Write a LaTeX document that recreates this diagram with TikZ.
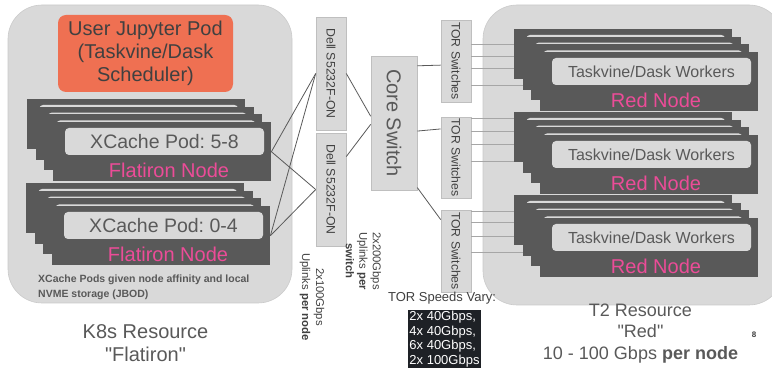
\documentclass[tikz,border=0pt]{standalone}
\usepackage{fontspec}
\setmainfont{Liberation Sans}
\newfontfamily\quotefont{Liberation Sans}[Ligatures=TeXOff]
\usepackage{graphicx}
\usetikzlibrary{calc}
\frenchspacing

\definecolor{panel}{HTML}{D9D9D9}
\definecolor{panelline}{HTML}{CACACA}
\definecolor{cardgray}{HTML}{595959}
\definecolor{textgray}{HTML}{595959}
\definecolor{darktext}{HTML}{404040}
\definecolor{nodepink}{RGB}{236,76,152}
\definecolor{podorange}{RGB}{239,112,82}
\definecolor{swline}{HTML}{BFBFBF}
\definecolor{torline}{HTML}{A6A6A6}
\definecolor{speedbg}{HTML}{1E2126}

\newcommand{\fsz}[2]{\fontsize{#1}{#2}\selectfont}
\newcommand{\dq}{{\quotefont\char34}}

% stack of node cards: name, x, y (front card top left), pod style, pod text, node label
\newcommand{\nodestack}[6]{%
  \foreach \k in {3,2,1} {
    \fill[cardgray] ($(#2,#3)+(-8.6*\k,-7.7*\k)$) rectangle ++(218,59-2.8*\k);
    \fill[panel, rounded corners=4pt] ($(#2,#3)+(-8.6*\k+12,-7.7*\k+6)$) rectangle ++(199,27);
  }
  \coordinate (#1back) at ($(#2,#3)+(-25.8,-23.1)$);
  \node[card] (#1) at (#2,#3) {};
  \node[podbox, #4] (#1pod) at ($(#1.north west)+(111.5,19.5)$) {#5};
  \node[pinklabel] (#1label) at ($(#1.north west)+(116,48)$) {#6};
}

\begin{document}
\begin{tikzpicture}[x=1pt, y=-1pt,
    every node/.style={inner sep=0pt},
    bigpanel/.style={fill=panel, draw=panelline, line width=0.6pt, rounded corners=34pt},
    card/.style={fill=cardgray, anchor=north west, minimum width=218pt, minimum height=59pt},
    podbox/.style={fill=panel, rounded corners=4pt, minimum width=199pt, minimum height=27pt, text=textgray},
    xcache/.style={font=\fsz{19.5}{22}},
    worker/.style={font=\fsz{16}{19}},
    pinklabel/.style={text=nodepink, font=\fsz{20}{23}},
    swbox/.style={fill=panel, draw=swline, line width=0.6pt, text=darktext},
    wire/.style={draw=cardgray, line width=0.8pt},
    torwire/.style={draw=torline, line width=0.6pt}]
  \useasboundingbox (0,0) rectangle (772,371);
  \clip (0,0) rectangle (772,371);

  \node[bigpanel, minimum width=284pt, minimum height=298pt] (k8s) at (150,154) {};
  \node[bigpanel, minimum width=300pt, minimum height=300pt] (t2) at (633,155) {};

  \node[fill=podorange, rounded corners=8pt, minimum width=175pt, minimum height=77pt,
        align=center, text=darktext, font=\fsz{20}{23}] (jupyter) at (145.5,53.5)
        {User Jupyter Pod\\(Taskvine/Dask\\Scheduler)};

  \nodestack{xc58}{53}{122}{xcache}{XCache Pod: 5-8}{Flatiron Node}
  \nodestack{xc04}{52}{206}{xcache}{XCache Pod: 0-4}{Flatiron Node}

  \node[anchor=north west, align=left, text=textgray, font=\bfseries\fsz{10.5}{15}] (affinity)
        at (38,275) {XCache Pods given node affinity and local\\NVME storage (JBOD)};

  \node[swbox, minimum width=30pt, minimum height=113pt] (dell1) at (331,73.5)
        {\rotatebox{-90}{\fsz{12.3}{14}Dell S5232F-ON}};
  \node[swbox, minimum width=30pt, minimum height=113pt] (dell2) at (331,189.5)
        {\rotatebox{-90}{\fsz{12.3}{14}Dell S5232F-ON}};
  \node[swbox, text=textgray, minimum width=46pt, minimum height=134pt] (core) at (394,123)
        {\rotatebox{-90}{\fsz{20}{24}Core Switch}};
  \node[swbox, minimum width=30pt, minimum height=82pt] (tor1) at (456,61)
        {\rotatebox{-90}{\fsz{12.2}{14}TOR Switches}};
  \node[swbox, minimum width=30pt, minimum height=81pt] (tor2) at (456,157.5)
        {\rotatebox{-90}{\fsz{12.2}{14}TOR Switches}};
  \node[swbox, minimum width=30pt, minimum height=82pt] (tor3) at (456,251)
        {\rotatebox{-90}{\fsz{12.2}{14}TOR Switches}};

  \foreach \o in {25,37,49,66}
    \draw[torwire] ($(tor1.north east)+(0,\o)$) -- +(60,0);
  \foreach \o in {2,15,28,45}
    \draw[torwire] ($(tor2.north east)+(0,\o)$) -- +(60,0);
  \foreach \o in {2,13,27,43}
    \draw[torwire] ($(tor3.north east)+(0,\o)$) -- +(60,0);

  \nodestack{red1}{540}{52}{worker}{Taskvine/Dask Workers}{Red Node}
  \nodestack{red2}{540}{135}{worker}{Taskvine/Dask Workers}{Red Node}
  \nodestack{red3}{540}{218}{worker}{Taskvine/Dask Workers}{Red Node}

  \begin{scope}[wire]
    \draw (xc58.east) to (dell1.west);
    \draw (xc58.east) to (dell2.west);
    \draw (xc04.east) to (dell1.west);
    \draw (xc04.east) to (dell2.west);
    \draw (dell1.east) to ($(core.north west)!0.45!(core.south west)$);
    \draw ($(dell2.north east)!0.21!(dell2.south east)$) to ($(core.north west)!0.51!(core.south west)$);
    \draw ($(core.north east)!0.075!(core.south east)$) to ($(tor1.north west)!0.55!(tor1.south west)$);
    \draw ($(core.north east)!0.56!(core.south east)$) to ($(tor2.north west)!0.15!(tor2.south west)$);
    \draw ($(core.north east)!0.98!(core.south east)$) to ($(tor3.north west)!0.12!(tor3.south west)$);
  \end{scope}

  \node[rotate=-90, align=center, text=darktext, font=\fsz{11.3}{14}] (uplinknode) at (312,297)
        {2x100Gbps\\Uplinks \textbf{per node}};
  \node[rotate=-90, align=center, text=darktext, font=\fsz{11.3}{13.5}] (uplinkswitch) at (363.5,261)
        {2x200Gbps\\Uplinks \textbf{per}\\\textbf{switch}};

  \node[text=darktext, font=\fsz{13}{15}] (torspeed) at (442,298) {TOR Speeds Vary:};
  \node[fill=speedbg, text=white, align=left, inner sep=1pt, font=\fsz{13}{14.5}] (speeds)
        at (444.5,339) {2x 40Gbps,\\4x 40Gbps,\\6x 40Gbps,\\2x 100Gbps};

  \node[text=textgray, align=center, font=\fsz{20}{23}] (k8slabel) at (145.5,343.5)
        {K8s Resource\\\dq Flatiron\dq};
  \node[text=textgray, align=center, font=\fsz{18}{21.5}] (t2label) at (640.5,333.5)
        {T2 Resource\\\dq Red\dq\\10 - 100 Gbps \textbf{per node}};
  \node[text=darktext, font=\bfseries\fsz{8}{9}] (pagenum) at (754,335) {8};
\end{tikzpicture}
\end{document}
